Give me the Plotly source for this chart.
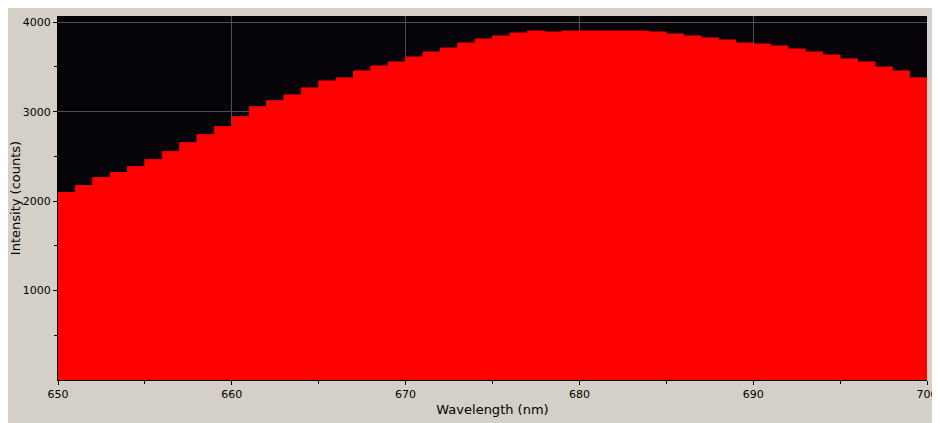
import plotly.graph_objects as go

wavelength = list(range(650, 701))
intensity = [2096, 2174, 2263, 2319, 2386, 2464, 2553, 2653, 2743, 2832,
             2943, 3055, 3122, 3188, 3266, 3344, 3378, 3456, 3512, 3556,
             3612, 3668, 3712, 3768, 3813, 3846, 3880, 3902, 3891, 3902,
             3902, 3902, 3902, 3902, 3891, 3869, 3846, 3824, 3802, 3768,
             3757, 3735, 3701, 3668, 3634, 3590, 3556, 3500, 3456, 3378, 3322]

fig = go.Figure(go.Scatter(
    x=wavelength, y=intensity, mode="lines", line=dict(shape="hv", color="#ff0000", width=1),
    fill="tozeroy", fillcolor="#ff0000", showlegend=False))

axis_style = dict(showgrid=True, gridcolor="#505050", gridwidth=1, zeroline=False, automargin=False,
                  ticks="outside", ticklen=4, tickcolor="#000000", showline=True, linecolor="#000000",
                  tickfont=dict(family="DejaVu Sans", size=11, color="#000000"))

fig.update_layout(
    width=932, height=415,
    paper_bgcolor="#d4d0c8", plot_bgcolor="#060408",
    margin=dict(l=50, r=13, t=8, b=43),
    font=dict(family="DejaVu Sans", size=11, color="#000000"),
)
fig.update_xaxes(range=[650, 700], dtick=10, title=dict(text="Wavelength (nm)", standoff=4), **axis_style)
fig.update_xaxes(minor=dict(dtick=5, ticks="outside", ticklen=3, tickcolor="#000000", showgrid=False))
fig.update_yaxes(range=[0, 4070], tickvals=[1000, 2000, 3000, 4000], title=dict(text="Intensity (counts)", standoff=6), **axis_style)
fig.update_yaxes(minor=dict(tickvals=[500, 1500, 2500, 3500], ticks="outside", ticklen=3, tickcolor="#000000", showgrid=False))

fig.write_html("out.html")
